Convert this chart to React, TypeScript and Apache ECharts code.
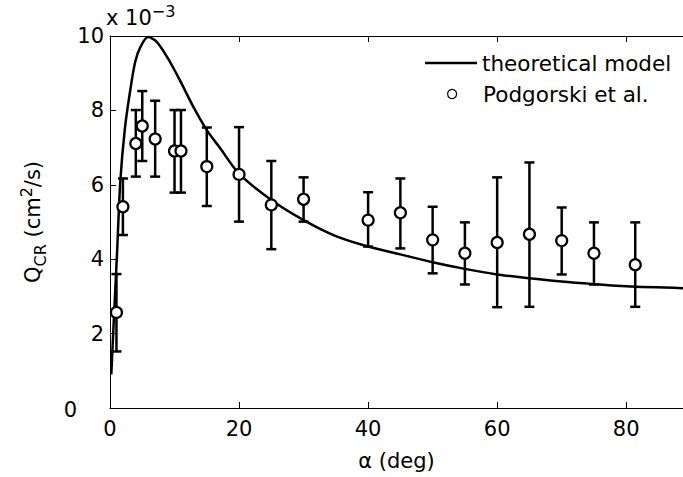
import React, { useEffect, useRef } from "react";
import * as echarts from "echarts";

// Theoretical model curve (alpha in deg, Q_CR in 1e-3 cm^2/s)
const theoryX = [0.2, 0.6, 1.1, 1.6, 2.3, 3.1, 3.9, 4.7, 5.9, 7.2, 8.8, 10.8, 12.9, 15, 17, 20, 25, 30, 35, 40, 45, 50, 55, 60, 65, 70, 75, 80, 88.8];
const theoryY = [0.9, 2.4, 4.2, 6.1, 7.5, 8.5, 9.3, 9.7, 9.97, 9.85, 9.45, 8.82, 8.1, 7.47, 7.0, 6.3, 5.59, 5.05, 4.62, 4.34, 4.13, 3.92, 3.74, 3.59, 3.49, 3.4, 3.33, 3.27, 3.22];

// Podgorski et al. measurements
const expX = [1, 2, 4, 5, 7, 10, 11, 15, 20, 25, 30, 40, 45, 50, 55, 60, 65, 70, 75, 81.4];
const expY = [2.57, 5.41, 7.11, 7.58, 7.23, 6.91, 6.91, 6.49, 6.28, 5.46, 5.61, 5.05, 5.25, 4.52, 4.16, 4.45, 4.67, 4.5, 4.16, 3.85];
const expLo = [1.52, 4.65, 6.22, 6.64, 6.22, 5.79, 5.79, 5.43, 5.01, 4.27, 5.01, 4.34, 4.29, 3.62, 3.32, 2.71, 2.72, 3.59, 3.32, 2.72];
const expHi = [3.6, 6.17, 8.01, 8.52, 8.26, 8.01, 8.01, 7.54, 7.55, 6.64, 6.2, 5.8, 6.17, 5.41, 4.99, 6.2, 6.6, 5.39, 4.99, 4.99];

const xTicks = [0, 20, 40, 60, 80];
const yTicks = [0, 2, 4, 6, 8, 10];

const FONT = "DejaVu Sans";

export default function App() {
  const ref = useRef<HTMLDivElement>(null);
  useEffect(() => {
    const chart = echarts.init(ref.current!, null, { renderer: "svg" });
    const theory = theoryX.map((x, i) => [x, theoryY[i]]);
    const pts = expX.map((x, i) => [x, expY[i]]);
    const bars = expX.map((x, i) => [x, expLo[i], expHi[i]]);
    const axisCommon = {
      type: "value" as const,
      splitLine: { show: false },
      axisLine: { show: true, onZero: false, lineStyle: { color: "#000", width: 1 } },
      axisTick: { show: true, inside: true, length: 6, lineStyle: { color: "#000", width: 1 } },
    };
    const legendText = { fontFamily: FONT, fontSize: 21.5, color: "#000" };
    chart.setOption({
      animation: false,
      backgroundColor: "#fff",
      textStyle: { fontFamily: FONT },
      grid: { left: 110, right: 0, top: 36, bottom: 69, containLabel: false },
      legend: [
        {
          orient: "vertical",
          left: 425,
          top: 52,
          padding: 0,
          itemWidth: 52,
          itemHeight: 2.5,
          textStyle: legendText,
          data: [{ name: "theoretical model", icon: "rect", itemStyle: { color: "#000", borderWidth: 0 } }],
        },
        {
          orient: "vertical",
          left: 447,
          top: 83,
          padding: 0,
          itemWidth: 52,
          itemHeight: 9,
          textStyle: legendText,
          data: [{ name: "Podgorski et al.", icon: "circle", itemStyle: { color: "#fff", borderColor: "#000", borderWidth: 1.2 } }],
        },
      ],
      graphic: [
        {
          type: "text",
          left: 106,
          top: 3,
          style: {
            text: "x 10{sup|−3}",
            fontFamily: FONT,
            fontSize: 21,
            lineHeight: 30,
            fill: "#000",
            rich: { sup: { fontFamily: FONT, fontSize: 16, lineHeight: 16, verticalAlign: "top" } },
          },
        },
      ],
      xAxis: [
        {
          ...axisCommon,
          position: "bottom",
          min: 0,
          max: 88.8,
          interval: 20,
          name: "α (deg)",
          nameLocation: "middle",
          nameGap: 42,
          nameTextStyle: { fontFamily: FONT, fontSize: 21, color: "#000" },
          axisLabel: {
            showMaxLabel: false,
            margin: 10,
            fontFamily: FONT,
            fontSize: 21,
            color: "#000",
            formatter: (v: number) => (xTicks.includes(v) ? String(v) : ""),
          },
        },
        {
          ...axisCommon,
          position: "top",
          min: 0,
          max: 88.8,
          interval: 20,
          axisLabel: { show: false },
        },
      ],
      yAxis: [
        {
          ...axisCommon,
          position: "left",
          min: 0,
          max: 10,
          interval: 2,
          name: "Q{sub|CR} (cm{sup|2}/s)",
          nameLocation: "middle",
          nameRotate: 90,
          nameGap: 62,
          nameTextStyle: {
            fontFamily: FONT,
            fontSize: 21,
            lineHeight: 30,
            color: "#000",
            rich: {
              sub: { fontFamily: FONT, fontSize: 16, lineHeight: 16, verticalAlign: "bottom", color: "#000" },
              sup: { fontFamily: FONT, fontSize: 16, lineHeight: 16, verticalAlign: "top", color: "#000" },
            },
          },
          axisLabel: {
            margin: 6,
            fontFamily: FONT,
            fontSize: 21,
            color: "#000",
            formatter: (v: number) => (v === 0 ? "{z|0}" : yTicks.includes(v) ? String(v) : ""),
            rich: { z: { fontFamily: FONT, fontSize: 21, color: "#000", padding: [4, 27, 0, 0] } },
          },
        },
      ],
      series: [
        {
          name: "theoretical model",
          type: "line",
          data: theory,
          symbol: "none",
          smooth: 0.3,
          lineStyle: { color: "#000", width: 2.5 },
          itemStyle: { color: "#000" },
          z: 3,
        },
        {
          name: "errorbars",
          type: "custom",
          data: bars,
          renderItem: (params: any, api: any) => {
            const x = api.value(0);
            const lo = api.coord([x, api.value(1)]);
            const hi = api.coord([x, api.value(2)]);
            const hw = 5;
            const style = { stroke: "#000", lineWidth: 2.5 };
            return {
              type: "group",
              children: [
                { type: "line", shape: { x1: lo[0], y1: lo[1], x2: hi[0], y2: hi[1] }, style },
                { type: "line", shape: { x1: lo[0] - hw, y1: lo[1], x2: lo[0] + hw, y2: lo[1] }, style },
                { type: "line", shape: { x1: hi[0] - hw, y1: hi[1], x2: hi[0] + hw, y2: hi[1] }, style },
              ],
            };
          },
          z: 4,
        },
        {
          name: "Podgorski et al.",
          type: "scatter",
          data: pts,
          symbol: "circle",
          symbolSize: 11,
          itemStyle: { color: "#fff", borderColor: "#000", borderWidth: 2.2, opacity: 1 },
          z: 5,
        },
      ],
    });
    return () => chart.dispose();
  }, []);
  return <div ref={ref} style={{ position: "absolute", left: 0, top: 0, width: 683, height: 477 }} />;
}
